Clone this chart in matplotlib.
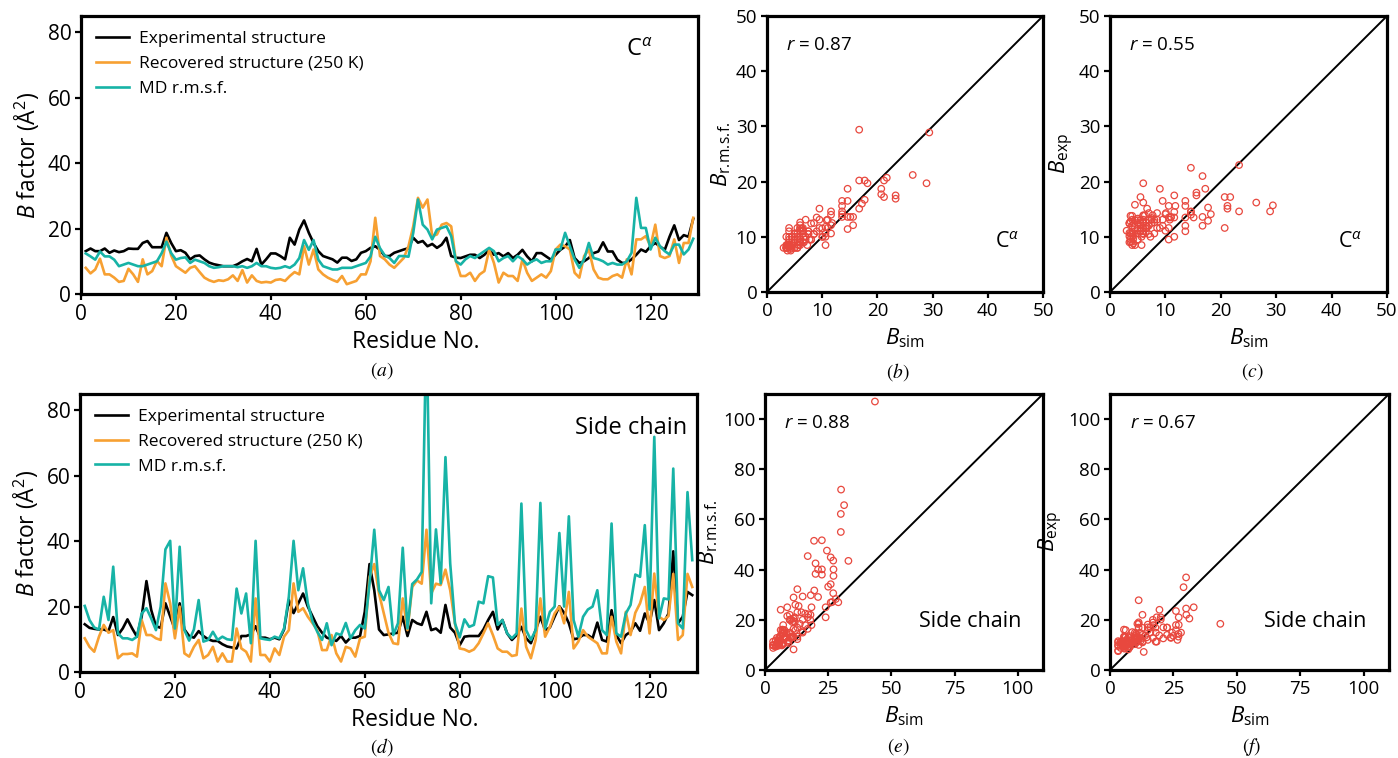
#!/usr/bin/env python3
"""B-factor profiles (Calpha / side chain) and scatter comparisons vs simulation."""

import matplotlib

matplotlib.use("Agg")
import matplotlib.pyplot as plt
import numpy as np

plt.rcParams["font.family"] = ["Open Sans", "DejaVu Sans"]
plt.rcParams["mathtext.fontset"] = "custom"
plt.rcParams["mathtext.rm"] = "Open Sans"
plt.rcParams["mathtext.it"] = "Open Sans:italic"
plt.rcParams["mathtext.bf"] = "Open Sans:bold"

W, H = 1398, 758

# ---- data, residues 1..129 ----
residue = np.arange(1, 130)

ca_exp = [
    13.1, 13.9, 13.1, 13.1, 13.9, 12.6, 13.3, 12.8, 13.1, 13.9,
    13.8, 13.8, 15.6, 16.2, 14.3, 14.3, 14.3, 18.7, 15.6, 13.1,
    13.4, 12.6, 10.6, 11.6, 11.8, 10.6, 9.6, 9.1, 8.8, 8.5,
    8.5, 8.5, 9.1, 10.0, 10.7, 10.0, 13.8, 9.0, 10.6, 12.4,
    12.4, 11.6, 10.6, 17.2, 15.1, 19.7, 22.5, 18.7, 15.6, 13.1,
    11.6, 11.1, 10.6, 9.6, 11.1, 11.1, 10.1, 10.6, 12.6, 13.1,
    14.1, 14.6, 13.5, 11.6, 11.6, 12.6, 13.1, 13.6, 14.0, 17.2,
    15.7, 16.2, 14.6, 15.3, 14.1, 15.1, 17.2, 11.6, 11.1, 11.0,
    11.5, 12.0, 12.0, 11.0, 12.0, 13.5, 12.0, 12.5, 11.5, 12.5,
    11.0, 12.0, 13.5, 11.5, 10.0, 12.5, 12.5, 11.5, 10.5, 12.0,
    13.5, 14.5, 16.5, 11.0, 9.5, 10.0, 11.0, 12.5, 13.0, 15.8,
    13.0, 13.0, 10.5, 9.5, 9.5, 10.6, 12.0, 13.6, 12.9, 14.6,
    15.6, 14.5, 13.5, 17.5, 21.0, 16.5, 18.0, 17.5, 23.0,
]
ca_sim = [
    8.0, 6.3, 7.5, 10.8, 6.0, 6.0, 5.0, 3.7, 4.0, 7.7,
    6.0, 3.7, 10.6, 6.0, 7.0, 10.1, 8.5, 17.2, 11.8, 8.5,
    7.5, 6.5, 8.0, 8.5, 6.7, 5.0, 4.2, 3.7, 4.2, 4.0,
    4.5, 5.7, 4.0, 7.3, 3.5, 5.7, 4.0, 3.5, 3.7, 3.5,
    4.3, 4.5, 4.0, 5.5, 6.7, 6.0, 14.6, 9.0, 13.6, 7.5,
    6.0, 5.0, 4.3, 3.7, 5.5, 3.0, 3.5, 4.0, 6.0, 6.0,
    10.0, 23.3, 11.6, 10.6, 9.0, 8.0, 9.5, 11.0, 14.6, 20.7,
    29.4, 26.4, 28.9, 17.7, 18.2, 21.2, 21.7, 20.7, 10.0, 5.5,
    5.5, 6.5, 4.0, 6.0, 7.0, 13.6, 9.5, 3.5, 6.5, 5.5,
    5.5, 4.0, 10.6, 6.5, 4.0, 5.0, 6.0, 5.0, 7.0, 13.6,
    15.1, 14.6, 13.6, 6.5, 5.0, 11.6, 13.6, 7.5, 5.0, 4.5,
    4.5, 5.5, 6.0, 5.0, 10.6, 6.0, 16.7, 16.7, 17.7, 14.6,
    21.2, 11.6, 11.0, 11.6, 16.7, 9.5, 15.6, 15.6, 23.3,
]
ca_md = [
    12.4, 11.5, 10.5, 13.0, 11.5, 11.5, 10.5, 8.5, 9.0, 9.5,
    9.0, 8.5, 8.5, 9.0, 9.5, 10.0, 12.5, 16.0, 12.5, 10.5,
    11.0, 11.2, 9.5, 10.5, 10.0, 9.5, 8.5, 8.0, 8.2, 8.5,
    8.5, 8.5, 8.2, 8.5, 8.0, 8.5, 9.5, 8.5, 8.5, 8.0,
    7.8, 8.0, 8.5, 8.0, 9.0, 11.0, 16.5, 13.5, 16.5, 10.5,
    8.5, 8.0, 7.5, 7.5, 8.0, 8.0, 8.0, 8.5, 9.0, 9.5,
    11.5, 17.5, 14.0, 11.8, 11.0, 9.5, 11.6, 11.6, 11.4, 18.7,
    28.9, 21.2, 19.7, 16.7, 19.7, 20.2, 20.7, 17.7, 10.0, 9.0,
    10.6, 11.6, 11.0, 12.1, 13.1, 14.1, 13.1, 10.0, 11.0, 11.6,
    10.0, 11.6, 10.6, 9.0, 10.0, 10.6, 9.5, 10.0, 10.0, 13.6,
    13.6, 18.7, 14.6, 10.6, 8.0, 10.6, 15.6, 11.0, 10.6, 10.0,
    9.0, 9.5, 9.0, 9.0, 10.0, 12.6, 29.4, 20.2, 20.2, 13.6,
    17.2, 14.6, 13.1, 12.1, 15.1, 15.1, 12.1, 13.6, 16.9,
]

sc_exp = [
    14.6, 13.5, 13.2, 13.0, 13.0, 12.5, 16.8, 11.3, 13.3, 16.1,
    13.3, 10.8, 17.0, 27.8, 19.0, 14.0, 13.5, 21.0, 17.0, 13.0,
    21.0, 13.0, 11.0, 10.5, 12.5, 11.0, 10.0, 9.5, 9.5, 8.5,
    7.8, 7.5, 7.2, 11.0, 11.0, 11.5, 14.0, 10.5, 10.5, 10.0,
    10.5, 10.0, 13.0, 22.0, 18.0, 21.0, 24.0, 20.0, 17.0, 14.0,
    12.0, 10.5, 10.0, 9.5, 11.0, 9.0, 10.5, 10.5, 11.0, 18.4,
    33.0, 25.0, 13.0, 11.3, 11.5, 11.8, 12.0, 16.9, 11.0, 15.9,
    14.9, 14.4, 18.4, 12.8, 13.3, 12.0, 20.5, 13.6, 12.0, 8.2,
    10.8, 11.0, 11.0, 11.0, 13.0, 15.9, 18.4, 13.0, 15.9, 11.8,
    9.8, 11.3, 13.8, 10.3, 8.8, 12.8, 16.9, 12.8, 13.6, 16.9,
    20.1, 18.1, 14.9, 10.0, 10.3, 11.3, 11.3, 10.3, 15.1, 9.8,
    9.3, 18.9, 11.3, 8.8, 11.3, 12.3, 14.9, 12.6, 17.9, 14.9,
    22.0, 12.8, 14.9, 17.9, 36.9, 14.9, 16.9, 24.5, 23.5,
]
sc_sim = [
    10.3, 7.7, 6.2, 10.8, 14.4, 12.0, 12.8, 4.2, 5.5, 5.5,
    5.7, 4.7, 15.9, 11.3, 11.3, 10.3, 9.8, 27.1, 21.0, 10.3,
    20.0, 5.7, 4.7, 7.7, 9.8, 4.2, 5.2, 7.7, 3.2, 5.7,
    3.2, 3.2, 13.3, 7.2, 6.2, 3.2, 22.5, 5.2, 5.2, 3.2,
    7.2, 5.2, 10.8, 12.8, 27.1, 18.4, 19.5, 16.9, 14.9, 12.8,
    6.7, 6.7, 11.3, 5.7, 3.2, 7.7, 7.2, 4.7, 10.3, 10.8,
    29.0, 33.0, 24.0, 18.0, 12.0, 8.8, 8.5, 22.5, 12.8, 26.0,
    28.0, 27.0, 43.5, 24.0, 27.0, 26.6, 31.3, 25.0, 14.9, 7.2,
    6.9, 6.2, 6.9, 8.8, 11.8, 14.9, 11.3, 7.2, 6.2, 6.2,
    4.9, 5.2, 19.4, 7.7, 4.2, 9.8, 22.5, 10.8, 13.8, 17.9,
    20.0, 14.9, 24.5, 7.2, 9.3, 12.8, 10.8, 9.8, 8.8, 5.7,
    5.7, 16.9, 9.3, 5.7, 18.4, 11.3, 18.1, 21.0, 26.0, 11.8,
    30.1, 16.9, 15.9, 17.1, 30.0, 9.8, 11.3, 30.0, 26.0,
]
sc_md = [
    20.2, 15.9, 13.6, 13.0, 23.0, 15.9, 32.2, 11.8, 10.3, 10.3,
    9.8, 10.8, 17.9, 19.5, 16.4, 12.8, 20.0, 37.5, 40.1, 13.3,
    38.3, 12.8, 9.6, 13.0, 22.0, 9.3, 9.8, 12.3, 9.8, 10.8,
    10.0, 9.8, 25.5, 17.9, 24.0, 8.8, 40.1, 10.3, 10.0, 9.8,
    10.8, 10.3, 13.3, 23.0, 40.1, 25.0, 31.7, 21.0, 15.4, 12.3,
    9.8, 14.9, 8.2, 11.8, 11.3, 15.0, 10.3, 12.8, 14.4, 13.3,
    27.0, 43.5, 25.0, 22.0, 26.0, 11.3, 14.9, 38.0, 13.3, 26.9,
    28.3, 30.6, 107.0, 21.0, 43.6, 27.1, 65.7, 33.2, 14.9, 10.6,
    16.1, 13.8, 14.4, 21.5, 21.0, 29.3, 28.9, 14.4, 15.9, 11.8,
    10.3, 11.8, 51.5, 12.8, 9.8, 12.8, 51.7, 13.3, 18.4, 20.0,
    42.5, 20.0, 47.6, 15.9, 10.8, 16.9, 19.1, 20.0, 25.0, 12.8,
    11.3, 45.4, 11.8, 10.8, 17.9, 20.5, 29.8, 29.1, 44.9, 19.1,
    71.9, 16.4, 22.5, 22.2, 62.2, 14.9, 13.3, 55.0, 34.2,
]

series_labels = ["Experimental structure", "Recovered structure (250 K)", "MD r.m.s.f."]
r_values = {"b": 0.87, "c": 0.55, "e": 0.88, "f": 0.67}

C_EXP = "#000000"
C_SIM = "#f7a032"
C_MD = "#17b3a6"
C_PT = "#e8483e"


def add_axes_px(fig, left, top, right, bottom):
    return fig.add_axes([left / W, 1 - bottom / H, (right - left) / W, (bottom - top) / H])


def style_axes(ax, tick_size):
    for s in ax.spines.values():
        s.set_linewidth(2.3)
    ax.tick_params(direction="out", length=4, width=1.6, labelsize=tick_size, pad=3)


def plot_profile(ax, exp, sim, md, tag, tag_x):
    ax.plot(residue, exp, color=C_EXP, lw=1.9, label=series_labels[0])
    ax.plot(residue, sim, color=C_SIM, lw=1.9, label=series_labels[1])
    ax.plot(residue, md, color=C_MD, lw=1.9, label=series_labels[2])
    ax.set_xlim(0, 130)
    ax.set_ylim(0, 85)
    ax.set_xticks(range(0, 121, 20))
    ax.set_yticks(range(0, 81, 20))
    style_axes(ax, 15)
    ax.set_xlabel("Residue No.", fontsize=16.5, labelpad=4)
    ax.xaxis.label.set_x(0.543)
    ax.set_ylabel(r"$B$ factor (Å$^2$)", fontsize=16.5, labelpad=4)
    ax.legend(loc="upper left", frameon=False, fontsize=12.5, handlelength=1.9,
              handletextpad=0.6, labelspacing=0.5, borderaxespad=0.45)
    ax.text(tag_x, 0.878, tag, transform=ax.transAxes, ha="center", va="center", fontsize=17)


def plot_scatter(ax, x, y, lim, xticks, yticks, ylab, r, tag, tag_pos):
    ax.plot([0, lim], [0, lim], color="black", lw=1.4, zorder=1)
    ax.scatter(x, y, s=22, facecolors="none", edgecolors=C_PT, linewidths=0.9, zorder=2)
    ax.set_xlim(0, lim)
    ax.set_ylim(0, lim)
    ax.set_xticks(xticks)
    ax.set_yticks(yticks)
    style_axes(ax, 13.5)
    ax.set_xlabel(r"$B_{\mathrm{sim}}$", fontsize=16, labelpad=5)
    ax.set_ylabel(ylab, fontsize=16, labelpad=2)
    ax.text(0.07, 0.895, rf"$r$ = {r:.2f}", transform=ax.transAxes, ha="left", va="center",
            fontsize=13.5)
    ax.text(tag_pos[0], tag_pos[1], tag, transform=ax.transAxes, ha="center", va="center",
            fontsize=15.5)


def main():
    fig = plt.figure(figsize=(W / 100, H / 100), dpi=100)

    ax_a = add_axes_px(fig, 81, 16, 698, 294)
    ax_b = add_axes_px(fig, 767, 16, 1043, 292)
    ax_c = add_axes_px(fig, 1110, 16, 1387, 292)
    ax_d = add_axes_px(fig, 80, 394, 697, 672)
    ax_e = add_axes_px(fig, 765, 394, 1043, 670)
    ax_f = add_axes_px(fig, 1110, 394, 1389, 670)

    calpha = r"C$^{\alpha}$"
    plot_profile(ax_a, ca_exp, ca_sim, ca_md, calpha, 0.905)
    plot_profile(ax_d, sc_exp, sc_sim, sc_md, "Side chain", 0.893)

    rmsf_lab = r"$B_{\mathrm{r.\!m.\!s.\!f.}}$"
    exp_lab = r"$B_{\mathrm{exp}}$"
    ca_ticks = range(0, 51, 10)
    plot_scatter(ax_b, ca_sim, ca_md, 50, ca_ticks, ca_ticks, rmsf_lab,
                 r_values["b"], calpha, (0.87, 0.18))
    plot_scatter(ax_c, ca_sim, ca_exp, 50, ca_ticks, ca_ticks, exp_lab,
                 r_values["c"], calpha, (0.866, 0.18))
    sc_xticks = range(0, 101, 25)
    sc_yticks = range(0, 101, 20)
    plot_scatter(ax_e, sc_sim, sc_md, 110, sc_xticks, sc_yticks, rmsf_lab,
                 r_values["e"], "Side chain", (0.737, 0.175))
    plot_scatter(ax_f, sc_sim, sc_exp, 110, sc_xticks, sc_yticks, exp_lab,
                 r_values["f"], "Side chain", (0.735, 0.175))

    panel_pos = {"a": (382, 371), "b": (898, 372), "c": (1252, 372),
                 "d": (382, 747), "e": (898, 747), "f": (1252, 747)}
    for key, (px, py) in panel_pos.items():
        fig.text(px / W, 1 - py / H, rf"$({key})$", ha="center", va="center",
                 fontsize=14, math_fontfamily="stix")

    fig.savefig("out.png", dpi=100)
    plt.close(fig)


if __name__ == "__main__":
    main()
